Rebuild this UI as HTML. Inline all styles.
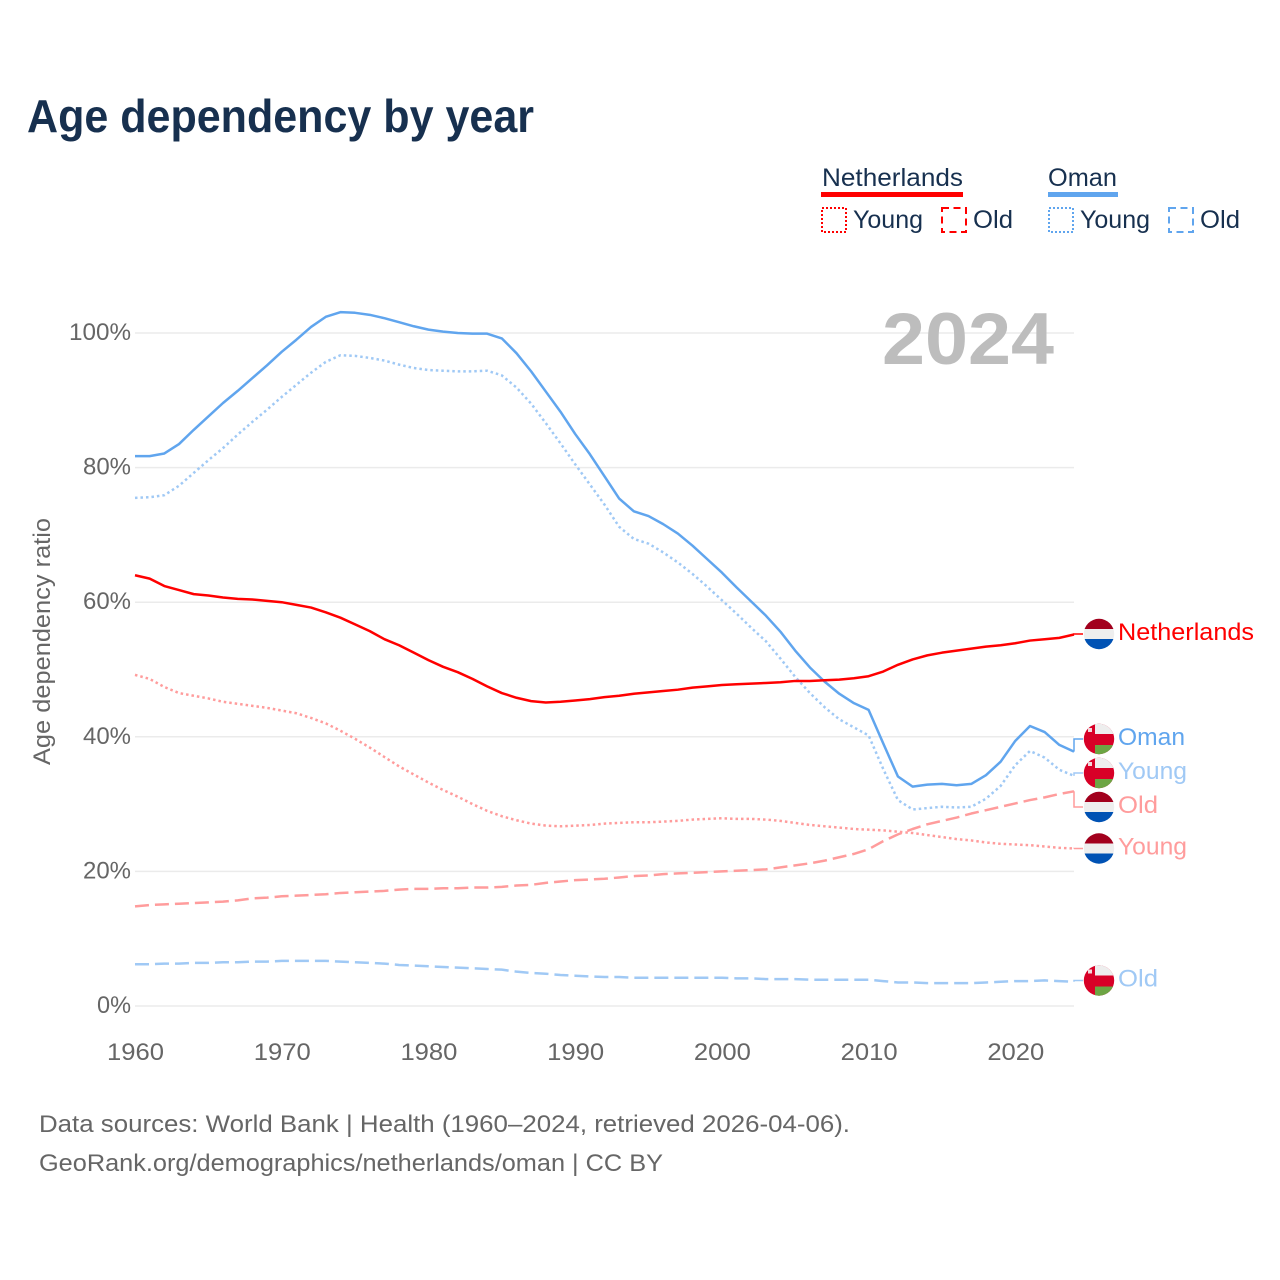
<!DOCTYPE html>
<html lang="en">
<head>
<meta charset="utf-8">
<title>Age dependency by year</title>
<style>
html,body{margin:0;padding:0;background:#fff;}
svg{display:block;font-family:"Liberation Sans",sans-serif;}
</style>
</head>
<body>
<svg id="chart" width="1280" height="1280" viewBox="0 0 1280 1280" xmlns="http://www.w3.org/2000/svg">
  <defs>
    <clipPath id="clip-nl"><circle cx="0" cy="0" r="15.2"/></clipPath>
  </defs>
  <rect width="1280" height="1280" fill="#fff"/>
  <text x="27" y="132" font-size="46" font-weight="700" fill="#17304f" textLength="507" lengthAdjust="spacingAndGlyphs">Age dependency by year</text>

  <g id="legend" fill="#17304f" font-size="25">
    <text x="822" y="186" textLength="141" lengthAdjust="spacingAndGlyphs">Netherlands</text>
    <rect x="821" y="192" width="142" height="5" fill="#ff0000"/>
    <rect x="822" y="208" width="24" height="24" fill="none" stroke="#ff0000" stroke-width="2" stroke-dasharray="2 2"/>
    <text x="853" y="228" textLength="70" lengthAdjust="spacingAndGlyphs">Young</text>
    <rect x="942" y="208" width="24" height="24" fill="none" stroke="#ff0000" stroke-width="2" stroke-dasharray="7 4.5"/>
    <text x="973" y="228" textLength="40" lengthAdjust="spacingAndGlyphs">Old</text>
    <text x="1048" y="186" textLength="69" lengthAdjust="spacingAndGlyphs">Oman</text>
    <rect x="1048" y="192" width="70" height="5" fill="#60a5ee"/>
    <rect x="1049" y="208" width="24" height="24" fill="none" stroke="#60a5ee" stroke-width="2" stroke-dasharray="2 2"/>
    <text x="1080" y="228" textLength="70" lengthAdjust="spacingAndGlyphs">Young</text>
    <rect x="1169" y="208" width="24" height="24" fill="none" stroke="#60a5ee" stroke-width="2" stroke-dasharray="7 4.5"/>
    <text x="1200" y="228" textLength="40" lengthAdjust="spacingAndGlyphs">Old</text>
  </g>

  <g id="grid"></g>
  <text x="882" y="364" font-size="73" font-weight="700" fill="#bdbdbd" textLength="172" lengthAdjust="spacingAndGlyphs">2024</text>
  <g id="y-ticks" font-size="24.5" fill="#666"></g>
  <g id="x-ticks" font-size="24.5" fill="#666"></g>
  <text transform="translate(50,765) rotate(-90)" font-size="24.5" fill="#666" textLength="247" lengthAdjust="spacingAndGlyphs">Age dependency ratio</text>
  <g id="series"></g>
  <g id="labels"></g>

  <g fill="#666" font-size="24.5">
    <text x="39" y="1132" textLength="811" lengthAdjust="spacingAndGlyphs">Data sources: World Bank | Health (1960–2024, retrieved 2026-04-06).</text>
    <text x="39" y="1171" textLength="624" lengthAdjust="spacingAndGlyphs">GeoRank.org/demographics/netherlands/oman | CC BY</text>
  </g>
</svg>
<script>
const startYear = 1960;
const xTickLabels = [1960, 1970, 1980, 1990, 2000, 2010, 2020];
const yTickLabels = [0, 20, 40, 60, 80, 100];
const omanTotal = [81.7,81.7,82.1,83.5,85.6,87.6,89.6,91.4,93.3,95.2,
  97.2,99,100.9,102.4,103.1,103,102.7,102.2,101.6,101,
  100.5,100.2,100,99.9,99.9,99.2,97,94.3,91.3,88.3,
  85,82,78.7,75.4,73.5,72.8,71.6,70.2,68.4,66.4,
  64.4,62.2,60.1,58,55.6,52.8,50.3,48.2,46.4,45,
  44,39,34.1,32.6,32.9,33,32.8,33,34.3,36.3,
  39.4,41.6,40.7,38.8,37.8];
const omanYoung = [75.5,75.6,75.9,77.3,79.2,81.1,82.9,84.9,86.8,88.6,
  90.5,92.3,94.1,95.7,96.7,96.6,96.3,95.9,95.3,94.8,
  94.5,94.4,94.3,94.3,94.4,93.7,91.9,89.5,86.6,83.6,
  80.5,77.5,74.5,71.2,69.4,68.7,67.4,65.9,64.2,62.3,
  60.3,58.3,56.2,54.2,51.6,48.9,46.5,44.4,42.6,41.4,
  40.2,35.2,30.6,29.2,29.4,29.6,29.5,29.6,30.8,32.7,
  35.8,37.9,36.9,35.1,34.2];
const omanOld = [6.2,6.2,6.3,6.3,6.4,6.4,6.5,6.5,6.6,6.6,
  6.7,6.7,6.7,6.7,6.6,6.5,6.4,6.3,6.1,6,
  5.9,5.8,5.7,5.6,5.5,5.4,5.1,4.9,4.8,4.6,
  4.5,4.4,4.3,4.3,4.2,4.2,4.2,4.2,4.2,4.2,
  4.2,4.1,4.1,4,4,4,3.9,3.9,3.9,3.9,
  3.9,3.7,3.5,3.5,3.4,3.4,3.4,3.4,3.5,3.6,
  3.7,3.7,3.8,3.7,3.6];
const netherlandsTotal = [64,63.5,62.4,61.8,61.2,61,60.7,60.5,60.4,60.2,
  60,59.6,59.2,58.5,57.7,56.7,55.7,54.5,53.6,52.5,
  51.4,50.4,49.6,48.6,47.5,46.5,45.8,45.3,45.1,45.2,
  45.4,45.6,45.9,46.1,46.4,46.6,46.8,47,47.3,47.5,
  47.7,47.8,47.9,48,48.1,48.3,48.3,48.4,48.5,48.7,
  49,49.7,50.7,51.5,52.1,52.5,52.8,53.1,53.4,53.6,
  53.9,54.3,54.5,54.7,55.2];
const netherlandsYoung = [49.2,48.6,47.4,46.5,46.1,45.7,45.2,44.9,44.6,44.3,
  43.9,43.5,42.8,42,40.9,39.7,38.4,37,35.6,34.4,
  33.2,32.1,31.1,30,29,28.2,27.6,27.1,26.8,26.7,
  26.8,26.9,27.1,27.2,27.3,27.3,27.4,27.5,27.7,27.8,
  27.9,27.8,27.8,27.7,27.5,27.2,26.9,26.7,26.5,26.3,
  26.2,26.1,25.9,25.7,25.4,25.1,24.8,24.6,24.3,24.1,
  24,23.9,23.7,23.5,23.4];
const netherlandsOld = [14.8,15,15.1,15.2,15.3,15.4,15.5,15.7,16,16.1,
  16.3,16.4,16.5,16.6,16.8,16.9,17,17.1,17.3,17.4,
  17.4,17.5,17.5,17.6,17.6,17.7,17.9,18,18.3,18.5,
  18.7,18.8,18.9,19.1,19.3,19.4,19.6,19.7,19.8,19.9,
  20,20.1,20.2,20.3,20.6,20.9,21.2,21.6,22.1,22.6,
  23.3,24.5,25.5,26.3,27,27.5,28,28.6,29.1,29.6,
  30.1,30.6,31,31.5,31.9];

const NS = 'http://www.w3.org/2000/svg';
const xScale = year => 135 + (year - startYear) * (1074 - 135) / 64;
const yScale = pct => 1006 - pct * 6.73;

function make(tag, attrs, parent) {
  const el = document.createElementNS(NS, tag);
  for (const k in attrs) el.setAttribute(k, attrs[k]);
  parent.appendChild(el);
  return el;
}

const gridG = document.getElementById('grid');
const yG = document.getElementById('y-ticks');
yTickLabels.forEach(v => {
  const line = make('line', {x1: 135, x2: 1074, y1: yScale(v), y2: yScale(v), stroke: '#ebebeb', 'stroke-width': 1.5}, gridG);
  
  
  const s = v + '%';
  const t = make('text', {x: 131 - (14 * s.length + 6), y: yScale(v) + 7, textLength: 14 * s.length + 6, lengthAdjust: 'spacingAndGlyphs'}, yG);
  
  
  t.textContent = s;
});

const xG = document.getElementById('x-ticks');
xTickLabels.forEach(v => {
  const t = make('text', {x: xScale(v) - 28, y: 1060, textLength: 57, lengthAdjust: 'spacingAndGlyphs'}, xG);
  
  
  t.textContent = v;
});

const seriesG = document.getElementById('series');
const labelsG = document.getElementById('labels');

function drawSeries(values, name, color, dash, flag, label, labelY, labelWidth) {
  let d = values.map((v, i) => (i ? 'L' : 'M') + xScale(startYear + i).toFixed(2) + ' ' + yScale(v).toFixed(2)).join(' ');
  const path = make('path', {d: d, fill: 'none', stroke: color, 'stroke-width': 2.5, 'stroke-linejoin': 'round'}, seriesG);
  if (dash) path.setAttribute('stroke-dasharray', dash);
  
  

  const endY = yScale(values[values.length - 1]);
  const conn = make('path', {d: 'M1074 ' + endY.toFixed(2) + ' V' + labelY + ' H1083', fill: 'none', stroke: color, 'stroke-width': 1.5}, seriesG);
  
  

  const g = make('g', {transform: 'translate(1099,' + labelY + ')', 'clip-path': 'url(#clip-nl)'}, labelsG);
  
  
  if (flag === 'nl') {
    make('rect', {x: -16, y: -16, width: 32, height: 32, fill: '#eeeeee'}, g);
    make('rect', {x: -16, y: -16, width: 32, height: 11, fill: '#a2001d'}, g);
    make('rect', {x: -16, y: 5, width: 32, height: 11, fill: '#0052b4'}, g);
  } else {
    make('rect', {x: -16, y: -16, width: 32, height: 32, fill: '#d80027'}, g);
    make('rect', {x: -4, y: -16, width: 20, height: 11, fill: '#eeeeee'}, g);
    make('rect', {x: -4, y: 6, width: 20, height: 10, fill: '#6da544'}, g);
    make('rect', {x: -11, y: -11, width: 4, height: 4, fill: '#f2d8dc'}, g);
  }

  const t = make('text', {x: 1118, y: labelY + 6, 'font-size': 24.5, fill: color, textLength: labelWidth, lengthAdjust: 'spacingAndGlyphs'}, labelsG);
  
  
  t.textContent = label;
}

drawSeries(omanOld, 'oman-old', '#a0c9f5', '14 6', 'om', 'Old', 980.5, 40);
drawSeries(omanYoung, 'oman-young', '#a0c9f5', '2.5 3', 'om', 'Young', 773, 69);
drawSeries(netherlandsOld, 'netherlands-old', '#ff9c9c', '14 6', 'nl', 'Old', 807, 40);
drawSeries(netherlandsYoung, 'netherlands-young', '#ff9c9c', '2.5 3', 'nl', 'Young', 848.5, 69);
drawSeries(omanTotal, 'oman-total', '#60a5ee', null, 'om', 'Oman', 739, 67);
drawSeries(netherlandsTotal, 'netherlands-total', '#ff0000', null, 'nl', 'Netherlands', 634, 136);
</script>
</body>
</html>
